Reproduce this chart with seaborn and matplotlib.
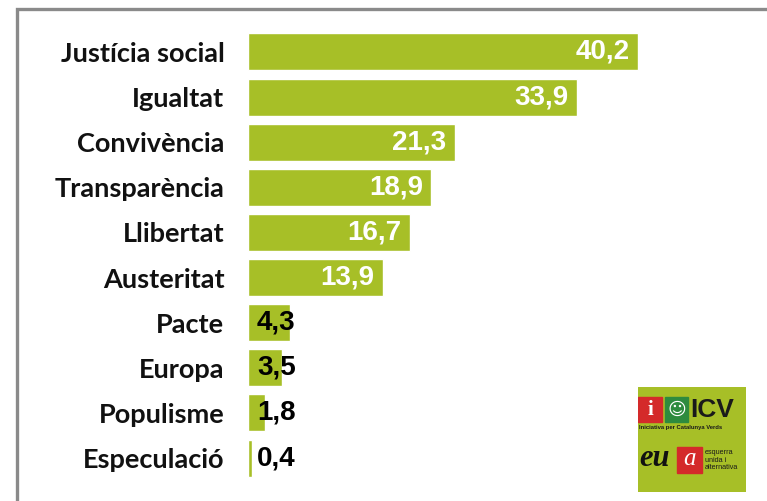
import matplotlib
matplotlib.use("Agg")
import matplotlib.pyplot as plt
import matplotlib.patches as patches
import seaborn as sns

categories = ['Justícia social', 'Igualtat', 'Convivència', 'Transparència', 'Llibertat',
              'Austeritat', 'Pacte', 'Europa', 'Populisme', 'Especulació']
values = [40.2, 33.9, 21.3, 18.9, 16.7, 13.9, 4.3, 3.5, 1.8, 0.4]
labels = ['40,2', '33,9', '21,3', '18,9', '16,7', '13,9', '4,3', '3,5', '1,8', '0,4']

green = '#A7BF27'
W, H = 767, 501

sns.set_style('white')
plt.rcParams['font.family'] = ['Lato', 'DejaVu Sans']

fig = plt.figure(figsize=(W / 100, H / 100), dpi=100)
ax = fig.add_axes([248 / W, 1 - 480.6 / H, 485 / W, 451.2 / H])

sns.barplot(x=values, y=categories, color=green, saturation=1, width=0.82,
            orient='h', ax=ax)
ax.set_xlim(0, 50)
ax.set_ylim(9.5, -0.5)
ax.set_xlabel('')
ax.set_ylabel('')
ax.set_xticks([])
for s in ax.spines.values():
    s.set_visible(False)
ax.tick_params(axis='y', length=0, pad=17)
for t in ax.get_yticklabels():
    t.set_fontweight('bold')
    t.set_fontsize(19.5)
    t.set_color('#111111')

for i, (v, lab) in enumerate(zip(values, labels)):
    if v > 10:
        ax.annotate(lab, (v, i), xytext=(-6, 0), textcoords='offset points',
                    ha='right', va='center', color='white', fontsize=20,
                    fontweight='bold', family='Liberation Sans')
    else:
        ax.annotate(lab, (0, i), xytext=(6.5, 0), textcoords='offset points',
                    ha='left', va='center', color='black', fontsize=20,
                    fontweight='bold', family='Liberation Sans')

# frame around the chart
fig.add_artist(patches.Rectangle((16.5 / W, -0.2), 1.5, 1.2 - 8.5 / H,
                                 transform=fig.transFigure, fill=False,
                                 edgecolor='#8a8a8a', linewidth=2.4))

# party logo (ICV / EUiA) drawn in a small pixel-space axes
lg = fig.add_axes([638 / W, 1 - 492 / H, 108 / W, 105 / H])
lg.set_xlim(0, 108)
lg.set_ylim(105, 0)
lg.axis('off')
lg.add_patch(patches.Rectangle((0, 0), 108, 105, color=green))
lg.add_patch(patches.Rectangle((0, 10), 24, 25, color='#D42A2A'))
lg.text(12, 23, 'i', color='white', fontsize=15, fontweight='bold',
        ha='center', va='center', family='Liberation Serif')
lg.add_patch(patches.Rectangle((27, 10), 23, 25, color='#2E8B3E'))
lg.text(38.5, 23, '☺', color='white', fontsize=13, ha='center', va='center',
        family='DejaVu Sans')
lg.text(52, 23, 'ICV', color='#1a1a1a', fontsize=19, fontweight='bold',
        ha='left', va='center', family='Liberation Sans')
lg.text(1, 40, 'Iniciativa per Catalunya Verds', color='#1a1a1a', fontsize=4.2,
        fontweight='bold', ha='left', va='center', family='Liberation Sans')
lg.text(1, 72, 'eu', color='#111111', fontsize=22, fontstyle='italic',
        fontweight='bold', ha='left', va='center', family='Liberation Serif')
lg.add_patch(patches.Rectangle((39, 60), 25, 26, color='#D42A2A'))
lg.text(51.5, 72, 'a', color='white', fontsize=18, fontstyle='italic',
        ha='center', va='center', family='Liberation Serif')
lg.text(67, 62, 'esquerra\nunida i\nalternativa', color='#1a1a1a', fontsize=5.2,
        ha='left', va='top', linespacing=1.1, family='Liberation Sans')

fig.savefig('out.png', dpi=100)
